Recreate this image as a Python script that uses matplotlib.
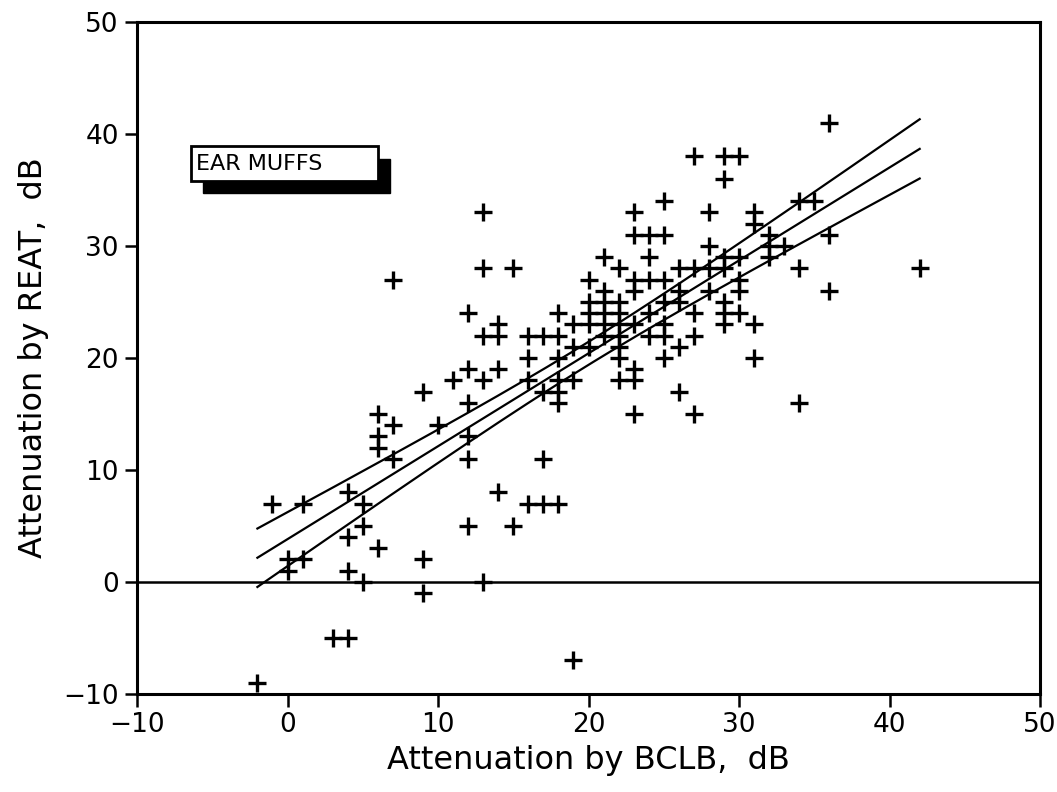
import numpy as np
import matplotlib
matplotlib.use("Agg")
import matplotlib.pyplot as plt
from matplotlib.patches import Rectangle

# ---- data (BCLB attenuation -> list of REAT attenuations) ----
bclb_values = [-2, -1, 0, 1, 3, 4, 5, 6, 7, 9, 10, 11, 12, 13, 14, 15, 16, 17, 18, 19,
               20, 21, 22, 23, 24, 25, 26, 27, 28, 29, 30, 31, 32, 33, 34, 35, 36, 42]
reat_by_bclb = [
    [-9], [7], [1, 2], [7, 2], [-5], [-5, 8, 4, 1], [7, 5, 0], [15, 13, 12, 3],
    [27, 14, 11], [17, 2, -1], [14], [18], [24, 19, 16, 13, 11, 5],
    [33, 28, 22, 18, 0], [23, 22, 19, 8], [28, 5], [22, 20, 18, 7],
    [22, 17, 11, 7], [24, 22, 20, 18, 17, 16, 7], [23, 21, 18, -7],
    [27, 25, 24, 23, 21], [29, 26, 25, 24, 23, 22],
    [28, 25, 24, 23, 22, 21, 20, 18], [33, 31, 27, 26, 23, 19, 18, 15],
    [31, 29, 27, 24, 22], [34, 31, 27, 25, 23, 22, 20], [28, 26, 25, 21, 17],
    [38, 28, 24, 22, 15], [33, 30, 28, 26], [38, 36, 29, 28, 25, 24, 23],
    [38, 29, 27, 26, 24], [33, 32, 23, 20], [31, 30, 29], [30], [34, 28, 16],
    [34], [41, 31, 26], [28],
]
x_ticks = [-10, 0, 10, 20, 30, 40, 50]
y_ticks = [-10, 0, 10, 20, 30, 40, 50]
x_label = "Attenuation by BCLB,  dB"
y_label = "Attenuation by REAT,  dB"
box_text = "EAR MUFFS"
fit_range = [-2, 42]
band_t = 1.85

x = np.array([b for b, ys in zip(bclb_values, reat_by_bclb) for _ in ys], float)
y = np.array([v for ys in reat_by_bclb for v in ys], float)

# least squares fit with confidence band
n = len(x)
slope, intercept = np.polyfit(x, y, 1)
resid = y - (intercept + slope * x)
s = np.sqrt(np.sum(resid ** 2) / (n - 2))
sxx = np.sum((x - x.mean()) ** 2)
xf = np.linspace(fit_range[0], fit_range[1], 200)
yf = intercept + slope * xf
half = band_t * s * np.sqrt(1.0 / n + (xf - x.mean()) ** 2 / sxx)

plt.rcParams['font.family'] = ['DejaVu Sans']
fig = plt.figure(figsize=(10.57, 7.92), dpi=100)
ax = fig.add_axes([0.1296, 0.124, 0.8544, 0.848])

ax.plot(x, y, linestyle='none', marker='+', color='black', markersize=13, markeredgewidth=2.4)
ax.plot(xf, yf, color='black', lw=1.6)
ax.plot(xf, yf + half, color='black', lw=1.6)
ax.plot(xf, yf - half, color='black', lw=1.6)
ax.axhline(0, color='black', lw=1.8)

ax.set_xlim(-10, 50)
ax.set_ylim(-10, 50)
ax.set_xticks(x_ticks)
ax.set_yticks(y_ticks)
ax.set_xticklabels([str(v).replace('-', '\u2212') for v in x_ticks])
ax.set_yticklabels([str(v).replace('-', '\u2212') for v in y_ticks])
ax.tick_params(direction='out', length=9, width=1.8, labelsize=19, pad=4)
for sp in ax.spines.values():
    sp.set_linewidth(2.2)
ax.set_xlabel(x_label, fontsize=23, labelpad=5)
ax.set_ylabel(y_label, fontsize=23, labelpad=10)

# label box with drop shadow
bx0, by0, bw, bh = -6.4, 35.8, 12.4, 3.1
ax.add_patch(Rectangle((bx0 + 0.8, by0 - 1.1), bw, bh, facecolor='black', edgecolor='black', zorder=4))
ax.add_patch(Rectangle((bx0, by0), bw, bh, facecolor='white', edgecolor='black', lw=2, zorder=5))
ax.text(bx0 + 0.3, by0 + bh / 2, box_text, fontsize=16, va='center', ha='left', zorder=6)

fig.savefig("out.png", dpi=100)
